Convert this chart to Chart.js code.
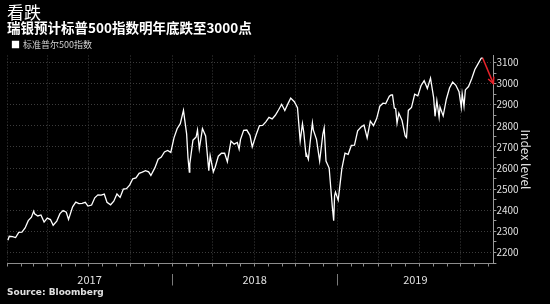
<!DOCTYPE html>
<html>
<head>
<meta charset="utf-8">
<script src="https://cdn.jsdelivr.net/npm/chart.js@4.4.1/dist/chart.umd.min.js"></script>
<style>
  html, body { margin: 0; padding: 0; background: #000; }
  #wrap { width: 550px; height: 304px; position: relative; }
</style>
</head>
<body>
<div id="wrap"><canvas id="chart"></canvas></div>
<script>
// S&P 500 closes (weekly plus a few swing highs/lows)
var dates = [
  '2017-01-03','2017-01-06','2017-01-13','2017-01-20','2017-01-27','2017-02-03','2017-02-10','2017-02-17','2017-02-24',
  '2017-03-01','2017-03-03','2017-03-10','2017-03-17','2017-03-24','2017-03-31','2017-04-07','2017-04-13','2017-04-21',
  '2017-04-28','2017-05-05','2017-05-12','2017-05-17','2017-05-26','2017-06-02','2017-06-09','2017-06-16','2017-06-23',
  '2017-06-29','2017-07-07','2017-07-14','2017-07-21','2017-07-28','2017-08-04','2017-08-10','2017-08-18','2017-08-25',
  '2017-09-01','2017-09-08','2017-09-15','2017-09-22','2017-09-29','2017-10-06','2017-10-13','2017-10-20','2017-10-27',
  '2017-11-03','2017-11-10','2017-11-15','2017-11-24','2017-12-01','2017-12-08','2017-12-15','2017-12-22','2017-12-29',
  '2018-01-05','2018-01-12','2018-01-19','2018-01-26','2018-02-02','2018-02-05','2018-02-08','2018-02-09','2018-02-16',
  '2018-02-23','2018-02-26','2018-03-02','2018-03-09','2018-03-16','2018-03-23','2018-03-26','2018-04-02','2018-04-06',
  '2018-04-13','2018-04-20','2018-04-27','2018-05-03','2018-05-11','2018-05-18','2018-05-25','2018-05-29','2018-06-01',
  '2018-06-08','2018-06-15','2018-06-22','2018-06-27','2018-07-06','2018-07-13','2018-07-20','2018-07-27','2018-08-03',
  '2018-08-10','2018-08-17','2018-08-24','2018-08-31','2018-09-07','2018-09-14','2018-09-20','2018-09-28','2018-10-05',
  '2018-10-11','2018-10-16','2018-10-19','2018-10-24','2018-10-26','2018-10-29','2018-11-02','2018-11-07','2018-11-09',
  '2018-11-16','2018-11-23','2018-11-30','2018-12-03','2018-12-07','2018-12-14','2018-12-21','2018-12-24','2018-12-26',
  '2018-12-28','2019-01-03','2019-01-11','2019-01-18','2019-01-25','2019-02-01','2019-02-08','2019-02-15','2019-02-22',
  '2019-03-01','2019-03-08','2019-03-15','2019-03-22','2019-03-29','2019-04-05','2019-04-12','2019-04-18','2019-04-26',
  '2019-04-30','2019-05-03','2019-05-07','2019-05-10','2019-05-13','2019-05-17','2019-05-24','2019-05-31','2019-06-03',
  '2019-06-07','2019-06-14','2019-06-21','2019-06-28','2019-07-05','2019-07-12','2019-07-19','2019-07-26','2019-08-02',
  '2019-08-05','2019-08-09','2019-08-14','2019-08-16','2019-08-23','2019-08-30','2019-09-06','2019-09-13','2019-09-20',
  '2019-09-27','2019-10-02','2019-10-04','2019-10-08','2019-10-11','2019-10-18','2019-10-25','2019-11-01','2019-11-08',
  '2019-11-15','2019-11-18'
];
var spx = [
  2258,2277,2275,2271,2295,2297,2316,2351,2367,
  2396,2383,2373,2378,2344,2363,2356,2329,2349,
  2384,2399,2391,2357,2416,2439,2432,2433,2438,
  2420,2425,2459,2473,2472,2477,2438,2426,2443,
  2477,2461,2500,2502,2519,2549,2553,2575,2581,
  2588,2582,2565,2602,2642,2652,2676,2683,2674,
  2743,2786,2810,2873,2762,2649,2581,2620,2732,
  2747,2780,2691,2787,2752,2588,2659,2582,2604,
  2656,2670,2670,2630,2728,2713,2721,2690,2735,
  2779,2780,2755,2700,2760,2801,2802,2819,2840,
  2833,2850,2875,2902,2872,2905,2931,2914,2886,
  2728,2810,2768,2656,2659,2641,2723,2814,2781,
  2736,2633,2760,2790,2633,2600,2417,2351,2468,
  2486,2448,2596,2671,2665,2707,2708,2776,2793,
  2804,2743,2822,2801,2834,2893,2907,2905,2940,
  2946,2946,2884,2881,2812,2860,2826,2752,2744,
  2873,2887,2950,2942,2990,3014,2977,3026,2932,
  2845,2919,2841,2889,2847,2926,2979,3007,2992,
  2962,2888,2952,2893,2970,2986,3023,3067,3093,
  3120,3122
];
var forecastValue = 3000;   // UBS year-end target
var yearLabels = ['2017', '2018', '2019'];
var axisStart = '2017-01-01';
var axisEnd = '2019-12-12';
var yMin = 2148, yMax = 3133;

function dayNum(s) {
  var p = s.split('-');
  return (Date.UTC(+p[0], +p[1] - 1, +p[2]) - Date.UTC(2017, 0, 1)) / 86400000;
}
var xMin = dayNum(axisStart);
var xMax = dayNum(axisEnd);

var points = dates.map(function (d, i) { return { x: dayNum(d), y: spx[i] }; });
var last = points[points.length - 1];
var forecast = [{ x: last.x, y: last.y }, { x: xMax, y: forecastValue }];

// month starts for minor ticks, quarters get grid lines
var monthTicks = [];
for (var y = 2017; y <= 2019; y++) {
  for (var m = 0; m < 12; m++) {
    var v = (Date.UTC(y, m, 1) - Date.UTC(2017, 0, 1)) / 86400000;
    if (v >= xMin && v <= xMax) monthTicks.push({ value: v, quarter: m % 3 === 0 });
  }
}
// year label positions and separators
var yearTicks = [];
yearLabels.forEach(function (lab, i) {
  var s = Math.max(dayNum(lab + '-01-01'), xMin);
  var e = Math.min(dayNum((+lab + 1) + '-01-01'), xMax);
  yearTicks.push({ value: (s + e) / 2, label: lab });
  if (i > 0) yearTicks.push({ value: dayNum(lab + '-01-01'), label: '', sep: true });
});

var arrowHead = {
  id: 'arrowHead',
  afterDatasetsDraw: function (chart) {
    var meta = chart.getDatasetMeta(1);
    var a = meta.data[0], b = meta.data[1];
    var ang = Math.atan2(b.y - a.y, b.x - a.x);
    var ctx = chart.ctx, len = 7;
    ctx.save();
    ctx.strokeStyle = '#e8232b';
    ctx.lineWidth = 1.5;
    ctx.beginPath();
    ctx.moveTo(b.x - len * Math.cos(ang - 0.45), b.y - len * Math.sin(ang - 0.45));
    ctx.lineTo(b.x, b.y);
    ctx.lineTo(b.x - len * Math.cos(ang + 0.45), b.y - len * Math.sin(ang + 0.45));
    ctx.stroke();
    ctx.restore();
  }
};

var cjk = '"Noto Sans CJK SC", "Noto Sans", sans-serif';

new Chart(document.getElementById('chart'), {
  type: 'line',
  data: {
    datasets: [{
      label: '标准普尔500指数',
      data: points,
      borderColor: '#ffffff',
      backgroundColor: '#ffffff',
      borderWidth: 1.3,
      pointRadius: 0,
      tension: 0
    }, {
      label: 'forecast',
      data: forecast,
      borderColor: '#e8232b',
      borderWidth: 1.5,
      pointRadius: 0
    }]
  },
  options: {
    responsive: true,
    maintainAspectRatio: false,
    animation: false,
    layout: { padding: { left: 7, right: 15, top: 4, bottom: 6 } },
    plugins: {
      title: {
        display: true,
        text: '看跌',
        align: 'start',
        color: '#ffffff',
        font: { family: cjk, size: 17, weight: 'normal', lineHeight: 1.0 },
        padding: { top: 0, bottom: 0 }
      },
      subtitle: {
        display: true,
        text: '瑞银预计标普500指数明年底跌至3000点',
        align: 'start',
        color: '#ffffff',
        font: { family: cjk, size: 13.5, weight: 'bold', lineHeight: 1.0 },
        padding: { top: 0, bottom: 0 }
      },
      legend: {
        display: true,
        align: 'start',
        maxHeight: 21,
        labels: {
          color: '#d0d0d0',
          font: { family: cjk, size: 9 },
          boxWidth: 6,
          boxHeight: 6,
          padding: 5.5,
          filter: function (item) { return item.datasetIndex === 0; }
        }
      },
      tooltip: { enabled: false }
    },
    scales: {
      x: {
        type: 'linear',
        position: 'bottom',
        min: xMin,
        max: xMax,
        afterBuildTicks: function (scale) {
          scale.ticks = monthTicks.map(function (t) { return { value: t.value }; });
        },
        ticks: { display: false },
        grid: {
          color: function (c) {
            var t = monthTicks[c.index];
            return t && t.quarter ? '#3c3c3c' : 'rgba(0,0,0,0)';
          },
          tickColor: '#8c8c8c',
          tickLength: 3,
          lineWidth: 1
        },
        border: { display: true, color: '#8c8c8c', dash: [1, 2] }
      },
      x2: {
        type: 'linear',
        position: 'bottom',
        min: xMin,
        max: xMax,
        afterBuildTicks: function (scale) {
          scale.ticks = yearTicks.map(function (t) { return { value: t.value }; });
        },
        ticks: {
          color: '#e0e0e0',
          font: { family: cjk, size: 11 },
          maxRotation: 0,
          autoSkip: false,
          padding: -12,
          callback: function (v, i) { return yearTicks[i].label; }
        },
        grid: {
          display: true,
          drawOnChartArea: false,
          drawTicks: true,
          tickLength: 19,
          tickColor: function (c) {
            var t = yearTicks[c.index];
            return t && t.sep ? '#7a7a7a' : 'rgba(0,0,0,0)';
          },
          tickBorderDash: [0, 7, 12, 40],
          tickWidth: 1
        },
        border: { display: false },
        title: {
          display: true,
          text: 'Source: Bloomberg',
          align: 'start',
          color: '#e0e0e0',
          font: { family: '"DejaVu Sans", sans-serif', size: 9, weight: 'bold' },
          padding: { top: 12.5, bottom: 0 }
        }
      },
      y: {
        type: 'linear',
        position: 'right',
        min: yMin,
        max: yMax,
        afterBuildTicks: function (scale) {
          var t = [];
          for (var v = Math.ceil(yMin / 50) * 50; v <= yMax; v += 50) t.push({ value: v });
          scale.ticks = t;
        },
        ticks: {
          color: '#e0e0e0',
          font: { family: cjk, size: 10 },
          padding: 0,
          autoSkip: false,
          callback: function (v) { return v % 100 === 0 ? v : ''; }
        },
        grid: {
          color: function (c) {
            return c.tick && c.tick.value % 100 === 0 ? '#3c3c3c' : 'rgba(0,0,0,0)';
          },
          tickColor: '#9a9a9a',
          tickLength: 3,
          lineWidth: 1
        },
        border: { display: true, color: '#9a9a9a', dash: [1, 2] },
        title: {
          display: true,
          text: 'Index level',
          color: '#e0e0e0',
          font: { family: cjk, size: 12 },
          padding: { top: 2, bottom: 0 }
        }
      }
    }
  },
  plugins: [arrowHead]
});
</script>
</body>
</html>
